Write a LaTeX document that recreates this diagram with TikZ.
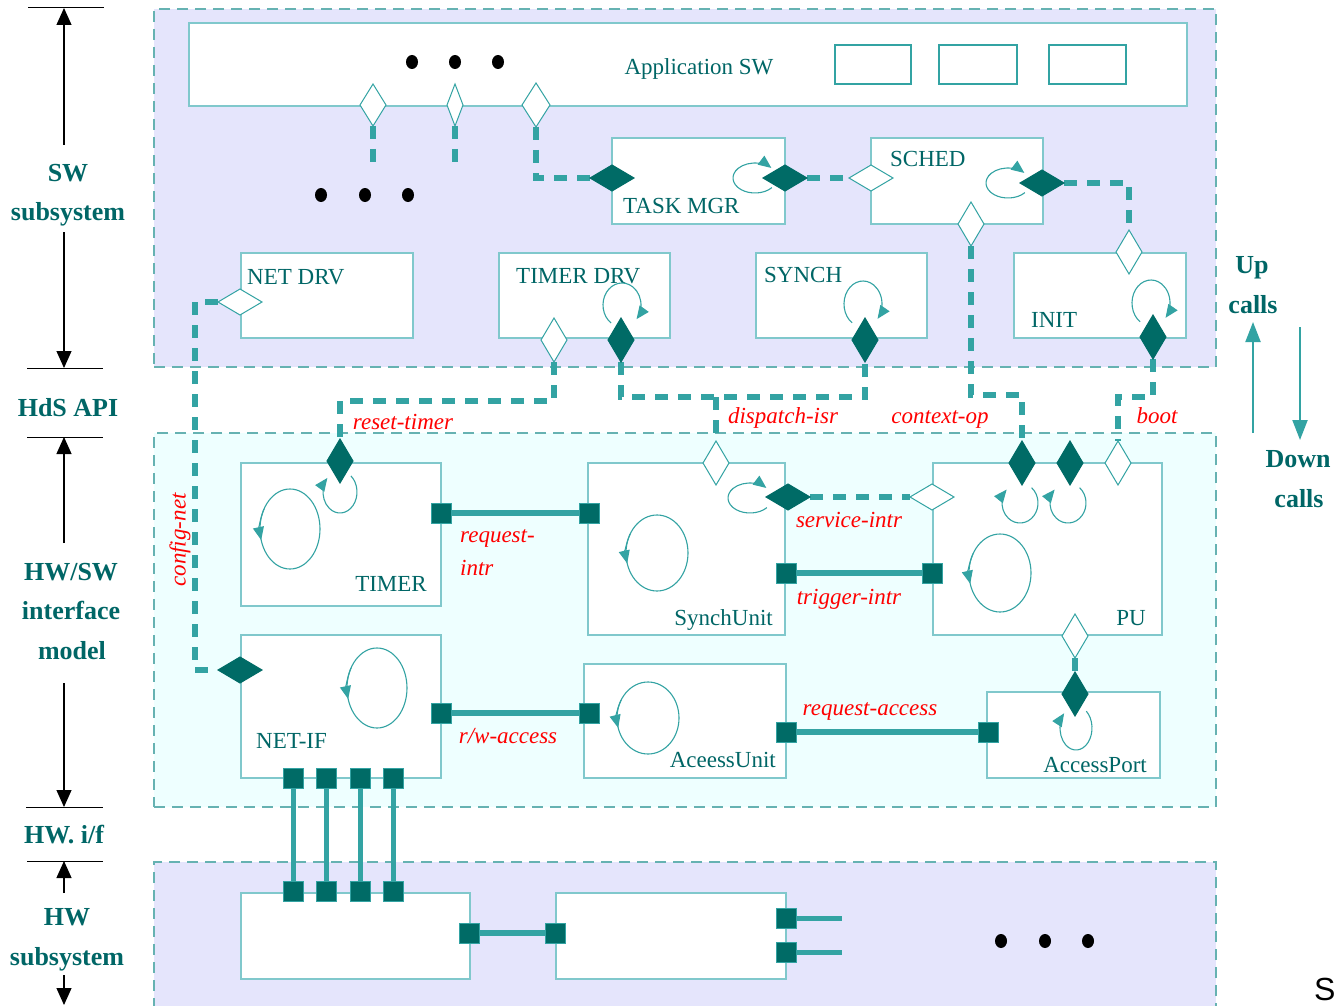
\documentclass[tikz,border=0pt]{standalone}
\usepackage{fontspec}
\setmainfont{Liberation Serif}
\newfontfamily\sansS{Liberation Sans}
\usetikzlibrary{shapes.geometric,arrows.meta}
\definecolor{lav}{RGB}{229,229,252}
\definecolor{azurefill}{RGB}{238,255,255}
\definecolor{regline}{RGB}{102,178,178}
\definecolor{boxline}{RGB}{128,200,204}
\definecolor{wire}{RGB}{51,163,163}
\definecolor{darkport}{RGB}{0,107,102}
\definecolor{tealtxt}{RGB}{0,102,102}
\definecolor{lblred}{RGB}{255,0,0}
\pgfdeclarelayer{back}
\pgfdeclarelayer{wires}
\pgfsetlayers{back,wires,main}

% small self-loop: centre x, centre y, rx, ry, start angle, end angle
\newcommand\smallloop[6]{%
  \draw[looparrow] (#1,#2) ++(#5:#3pt and #4pt)
    arc[start angle=#5, end angle=#6, x radius=#3pt, y radius=#4pt];}
% process loop: full ellipse with a downward arrow on its left side
\newcommand\procloop[4]{%
  \draw[loopline] (#1,#2) ellipse[x radius=#3pt, y radius=#4pt];
  \draw[looparrow] (#1,#2) ++(150:#3pt and #4pt)
    arc[start angle=150, end angle=196, x radius=#3pt, y radius=#4pt];}

\begin{document}
\begin{tikzpicture}[x=1pt,y=1pt,
  region/.style={rectangle, anchor=north west, draw=regline, line width=1.3pt,
    dash pattern=on 11pt off 7pt, inner sep=0, outer sep=0},
  blk/.style={rectangle, anchor=north west, draw=boxline, fill=white,
    line width=1.5pt, inner sep=0, outer sep=0},
  minibox/.style={rectangle, anchor=north west, draw=wire, fill=white,
    line width=1.2pt, inner sep=0, outer sep=0},
  portbase/.style={diamond, inner sep=0, outer sep=0, line width=1pt},
  hh/.style={portbase, draw=wire, fill=white, minimum width=44pt, minimum height=26pt},
  hv/.style={portbase, draw=wire, fill=white, minimum width=26pt, minimum height=44pt},
  fh/.style={portbase, draw=darkport, fill=darkport, minimum width=44pt, minimum height=26pt},
  fv/.style={portbase, draw=darkport, fill=darkport, minimum width=26pt, minimum height=44pt},
  sq/.style={rectangle, fill=darkport, draw=wire, line width=0.8pt,
    minimum size=20pt, inner sep=0, outer sep=0},
  blob/.style={ellipse, fill=black, minimum width=12pt, minimum height=14pt, inner sep=0},
  dconn/.style={draw=wire, line width=6pt, dash pattern=on 13pt off 10pt},
  sconn/.style={draw=wire, line width=6pt},
  loopline/.style={draw=wire, line width=1.1pt},
  looparrow/.style={draw=wire, line width=1.1pt, -{Triangle[length=13pt,width=11pt]}},
  lbl/.style={font=\fontsize{23}{27}\selectfont, text=tealtxt, inner sep=0, anchor=base west},
  redlbl/.style={font=\fontsize{23}{27}\selectfont\itshape, text=lblred, inner sep=0, anchor=base},
  sidelbl/.style={font=\fontsize{26}{30}\selectfont\bfseries, text=tealtxt, inner sep=0, anchor=base},
  scalearrow/.style={draw=black, line width=1.2pt, -{Triangle[length=17pt,width=15pt]}},
  tickline/.style={draw=black, line width=1pt},
  callarrow/.style={draw=wire, line width=2pt, -{Triangle[length=20pt,width=15pt]}}
]
\useasboundingbox (0,0) rectangle (1341,-1006);

% ---------- layer regions ----------
\begin{pgfonlayer}{back}
  \node[region, fill=lav, minimum width=1062pt, minimum height=358pt] (swreg) at (154,-9) {};
  \node[region, fill=azurefill, minimum width=1062pt, minimum height=374pt] (ifreg) at (154,-433) {};
  \node[region, fill=lav, minimum width=1062pt, minimum height=170pt] (hwreg) at (154,-862) {};
\end{pgfonlayer}

% ---------- left scale ----------
\draw[tickline] (28,-8) -- (104,-8);
\draw[tickline] (27,-368) -- (103,-368);
\draw[tickline] (27,-437) -- (103,-437);
\draw[tickline] (26,-807) -- (103,-807);
\draw[tickline] (27,-861) -- (103,-861);
\coordinate (k1) at (64,-8);
\coordinate (k2) at (64,-368);
\coordinate (k3) at (64,-437);
\coordinate (k4) at (64,-807);
\coordinate (k5) at (64,-861);
\coordinate (k6) at (64,-1005);
\coordinate (s1) at (64,-145);
\coordinate (s2) at (64,-232);
\coordinate (s3) at (64,-543);
\coordinate (s4) at (64,-683);
\coordinate (s5) at (64,-893);
\coordinate (s6) at (64,-975);
\draw[scalearrow] (s1) -- (k1);
\draw[scalearrow] (s2) -- (k2);
\draw[scalearrow] (s3) -- (k3);
\draw[scalearrow] (s4) -- (k4);
\draw[scalearrow] (s5) -- (k5);
\draw[scalearrow] (s6) -- (k6);
\node[sidelbl] (lsw1) at (68,-181) {SW};
\node[sidelbl] (lsw2) at (68,-220) {subsystem};
\node[sidelbl] (lhds) at (68,-416) {HdS API};
\node[sidelbl] (lif1) at (71,-580) {HW/SW};
\node[sidelbl] (lif2) at (71,-619) {interface};
\node[sidelbl] (lif3) at (72,-659) {model};
\node[sidelbl] (lhwi) at (64,-843) {HW. i/f};
\node[sidelbl] (lhw1) at (67,-925) {HW};
\node[sidelbl] (lhw2) at (67,-965) {subsystem};

% ---------- up / down calls ----------
\node[sidelbl] (lup1) at (1252,-273) {Up};
\node[sidelbl] (lup2) at (1253,-313) {calls};
\node[sidelbl] (ldn1) at (1298,-467) {Down};
\node[sidelbl] (ldn2) at (1299,-507) {calls};
\coordinate (upa) at (1253,-433);
\coordinate (upb) at (1253,-322);
\coordinate (dna) at (1300,-327);
\coordinate (dnb) at (1300,-440);
\draw[callarrow] (upa) -- (upb);
\draw[callarrow] (dna) -- (dnb);

% ---------- SW subsystem ----------
\node[blk, minimum width=998pt, minimum height=83pt] (app) at (189,-23) {};
\node[lbl, anchor=base] (applbl) at (699,-75) {Application SW};
\node[minibox, minimum width=76pt, minimum height=39pt] (ab1) at (835,-45) {};
\node[minibox, minimum width=78pt, minimum height=39pt] (ab2) at (939,-45) {};
\node[minibox, minimum width=77pt, minimum height=39pt] (ab3) at (1049,-45) {};
\node[blob] (dt1) at (412,-62) {};
\node[blob] (dt2) at (455,-62) {};
\node[blob] (dt3) at (498,-62) {};
\node[portbase, draw=wire, fill=white, minimum width=26pt, minimum height=42pt] (ap1) at (373,-105) {};
\node[portbase, draw=wire, fill=white, minimum width=16pt, minimum height=42pt] (ap2) at (455,-105) {};
\node[portbase, draw=wire, fill=white, minimum width=28pt, minimum height=44pt] (ap3) at (536,-105) {};
\coordinate (ap1e) at (373,-162);
\coordinate (ap2e) at (455,-162);
\node[blob] (dt4) at (321,-195) {};
\node[blob] (dt5) at (365,-195) {};
\node[blob] (dt6) at (408,-195) {};

\node[blk, minimum width=173pt, minimum height=86pt] (tm) at (612,-138) {};
\node[lbl] (tmlbl) at (623,-213) {TASK MGR};
\node[fh] (tmL) at (612,-178) {};
\node[fh] (tmR) at (785,-178) {};
\smallloop{755}{-178}{22}{15}{-40}{-318}

\node[blk, minimum width=172pt, minimum height=86pt] (sc) at (871,-138) {};
\node[lbl] (sclbl) at (890,-167) {SCHED};
\node[hh] (scL) at (871,-178) {};
\node[fh] (scR) at (1042,-183) {};
\node[hv] (scB) at (971,-224) {};
\smallloop{1008}{-183}{22}{15}{-40}{-318}

\node[blk, minimum width=172pt, minimum height=85pt] (nd) at (241,-253) {};
\node[lbl] (ndlbl) at (247,-284) {NET DRV};
\node[hh] (ndL) at (240,-302) {};

\node[blk, minimum width=171pt, minimum height=85pt] (td) at (499,-253) {};
\node[lbl] (tdlbl) at (516,-283) {TIMER DRV};
\node[hv] (tdH) at (554,-340) {};
\node[fv] (tdF) at (621,-340) {};
\smallloop{622}{-305}{19}{22}{235}{-40}

\node[blk, minimum width=171pt, minimum height=85pt] (sy) at (756,-253) {};
\node[lbl] (sylbl) at (764,-282) {SYNCH};
\node[fv] (syF) at (865,-340) {};
\smallloop{863}{-304}{19}{23}{235}{-40}

\node[blk, minimum width=172pt, minimum height=85pt] (in) at (1014,-253) {};
\node[lbl] (inlbl) at (1031,-327) {INIT};
\node[hv] (inT) at (1129,-252) {};
\node[fv] (inB) at (1153,-337) {};
\smallloop{1151}{-303}{19}{23}{235}{-40}

% ---------- HW/SW interface model ----------
\node[blk, minimum width=200pt, minimum height=143pt] (tmr) at (241,-463) {};
\node[lbl, anchor=base east] (tmrlbl) at (427,-591) {TIMER};
\node[fv] (tmrD) at (340,-461) {};
\node[sq] (tmrR) at (441,-513) {};
\smallloop{340}{-492}{17}{21}{50}{-222}
\procloop{290}{-529}{30}{40}

\node[blk, minimum width=197pt, minimum height=172pt] (su) at (588,-463) {};
\node[lbl, anchor=base east] (sulbl) at (773,-625) {SynchUnit};
\node[hv] (suT) at (716,-463) {};
\node[fh] (suD) at (788,-497) {};
\node[sq] (suL) at (589,-513) {};
\node[sq] (suS) at (786,-573) {};
\smallloop{750}{-498}{22}{15}{-40}{-318}
\procloop{657}{-553}{31}{38}

\node[blk, minimum width=229pt, minimum height=172pt] (pu) at (933,-463) {};
\node[lbl, anchor=base east] (pulbl) at (1146,-625) {PU};
\node[fv] (puT1) at (1022,-463) {};
\node[fv] (puT2) at (1070,-463) {};
\node[hv] (puT3) at (1118,-463) {};
\node[hh] (puL) at (932,-497) {};
\node[sq] (puS) at (932,-573) {};
\node[hv] (puB) at (1075,-636) {};
\smallloop{1020}{-503}{18}{20}{50}{-222}
\smallloop{1068}{-503}{18}{20}{50}{-222}
\procloop{1000}{-573}{31}{39}

\node[blk, minimum width=200pt, minimum height=143pt] (ni) at (241,-635) {};
\node[lbl] (nilbl) at (256,-748) {NET-IF};
\node[fh] (niL) at (240,-670) {};
\node[sq] (niR) at (441,-713) {};
\procloop{377}{-688}{30}{40}

\node[blk, minimum width=202pt, minimum height=114pt] (au) at (584,-664) {};
\node[lbl, anchor=base east] (aulbl) at (776,-767) {AceessUnit};
\node[sq] (auL) at (589,-713) {};
\node[sq] (auR) at (786,-732) {};
\procloop{648}{-718}{31}{36}

\node[blk, minimum width=173pt, minimum height=86pt] (apt) at (987,-692) {};
\node[lbl, anchor=base east] (aptlbl) at (1147,-772) {AccessPort};
\node[fv] (aptD) at (1075,-694) {};
\node[sq] (aptL) at (988,-732) {};
\smallloop{1076}{-728}{16}{22}{50}{-222}

% ---------- HW subsystem ----------
\node[blk, minimum width=229pt, minimum height=86pt] (hw1) at (241,-893) {};
\node[blk, minimum width=230pt, minimum height=86pt] (hw2) at (556,-893) {};
\foreach \i/\x in {1/293,2/326,3/360,4/393}{
  \node[sq] (niB\i) at (\x,-778) {};
  \node[sq] (hwT\i) at (\x,-891) {};
}
\node[sq] (hw1R) at (469,-933) {};
\node[sq] (hw2L) at (555,-933) {};
\node[sq] (hw2a) at (786,-918) {};
\node[sq] (hw2b) at (786,-952) {};
\coordinate (hw2ae) at (842,-918);
\coordinate (hw2be) at (842,-952);
\node[blob] (dt7) at (1001,-941) {};
\node[blob] (dt8) at (1045,-941) {};
\node[blob] (dt9) at (1088,-941) {};

% ---------- connectors ----------
\begin{pgfonlayer}{wires}
  \draw[dconn] (ap1.south) -- (ap1e);
  \draw[dconn] (ap2.south) -- (ap2e);
  \draw[dconn] (ap3.south) |- (tmL.west);
  \draw[dconn] (tmR.east) -- (scL.west);
  \draw[dconn] (scR.east) -| (inT.north);
  \draw[dconn] (scB.south) -- ++(0,-149) -| (puT1.north);
  \draw[dconn] (inB.south) -- ++(0,-38) -| (puT3.north);
  \draw[dconn] (tdH.south) -- ++(0,-39) -| (tmrD.north);
  \draw[dconn] (tdF.south) -- ++(0,-35) -| (syF.south);
  \coordinate (disp) at (716,-397);
  \draw[dconn] (disp) -- (suT.north);
  \draw[dconn] (ndL.west) -- ++(-23,0) |- (niL.west);
  \draw[dconn] (suD.east) -- (puL.west);
  \draw[dconn] (puB.south) -- (aptD.north);
  \draw[sconn] (tmrR) -- (suL);
  \draw[sconn] (suS) -- (puS);
  \draw[sconn] (niR) -- (auL);
  \draw[sconn] (auR) -- (aptL);
  \foreach \i in {1,2,3,4}{\draw[sconn, line width=5pt] (niB\i) -- (hwT\i);}
  \draw[sconn] (hw1R) -- (hw2L);
  \draw[sconn, line width=5pt] (hw2a) -- (hw2ae);
  \draw[sconn, line width=5pt] (hw2b) -- (hw2be);
\end{pgfonlayer}

% ---------- connector labels ----------
\node[redlbl] (lrt) at (403,-429) {reset-timer};
\node[redlbl] (ldi) at (783,-423) {dispatch-isr};
\node[redlbl] (lco) at (940,-423) {context-op};
\node[redlbl] (lbo) at (1157,-423) {boot};
\node[redlbl, anchor=center, rotate=90] (lcn) at (180,-540) {config-net};
\node[redlbl, anchor=base west] (lri1) at (460,-542) {request-};
\node[redlbl, anchor=base west] (lri2) at (460,-575) {intr};
\node[redlbl] (lsi) at (849,-527) {service-intr};
\node[redlbl] (lti) at (849,-604) {trigger-intr};
\node[redlbl] (lrw) at (508,-743) {r/w-access};
\node[redlbl] (lra) at (870,-715) {request-access};

\node[font=\sansS\fontsize{32}{36}\selectfont, inner sep=0, anchor=base west] (sgl) at (1314,-1000) {S};
\end{tikzpicture}
\end{document}
